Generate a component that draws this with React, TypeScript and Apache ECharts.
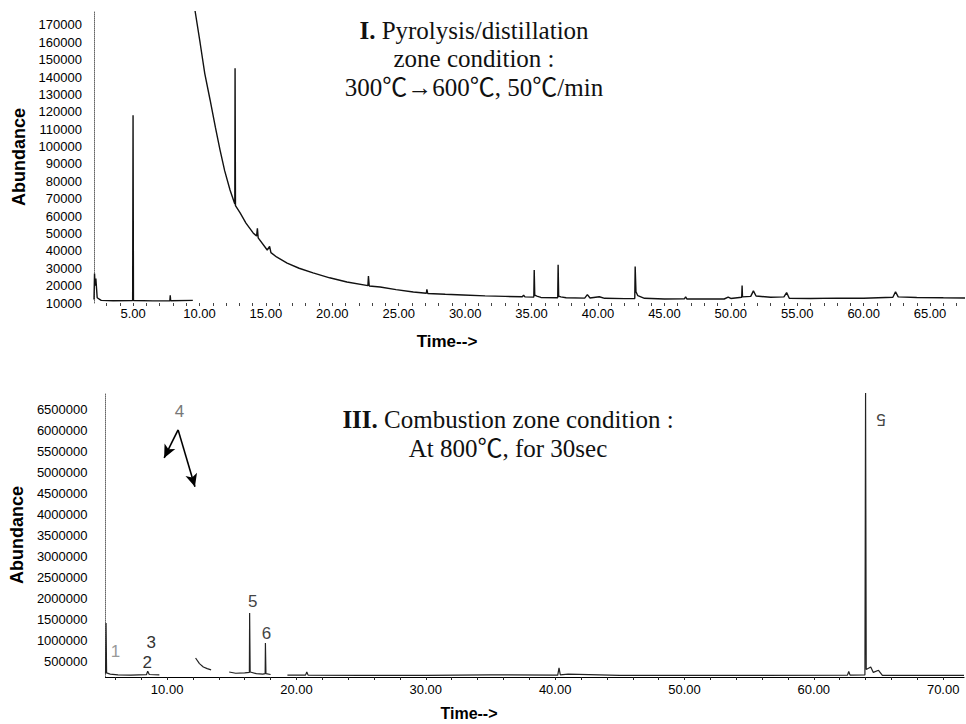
import React, { useEffect, useRef } from "react";
import * as echarts from "echarts";

// ---------- Data ----------
// Pyrolysis/distillation zone chromatogram: [retention time (min), abundance]; null = trace not visible
const pyrolysisTrace: [number, number | null][] = [
  [2.06, 12000], [2.1, 27000], [2.14, 20000], [2.2, 24000], [2.3, 13000], [2.6, 11500],
  [3.5, 11300], [4.97, 11400], [5.0, 118000], [5.03, 11400], [6.5, 11200],
  [7.77, 11300], [7.8, 14500], [7.83, 11300], [9.5, 11500], [9.6, null],
  [9.67, 178000], [10.05, 159600], [10.4, 142000], [10.8, 126800], [11.2, 111000],
  [11.55, 98000], [11.9, 86000], [12.3, 75000], [12.66, 67000], [12.68, 145000],
  [12.71, 66000], [13.06, 61800], [13.5, 56000], [14.04, 50300], [14.3, 48500],
  [14.36, 53000], [14.42, 47500], [15.1, 40500], [15.28, 42500], [15.38, 39000],
  [15.8, 36500], [16.6, 33000], [17.5, 30000], [18.55, 27300], [19.8, 24500],
  [21.1, 22100], [22.68, 20000], [22.72, 25500], [22.78, 19800], [23.6, 19200],
  [24.8, 17700], [26.1, 16300], [27.08, 15600], [27.12, 17800], [27.18, 15500],
  [28.5, 15000], [29.85, 14600], [31.5, 14100], [33.0, 13800], [34.3, 13600],
  [34.4, 14500], [34.5, 13500], [35.17, 13400], [35.2, 29000], [35.24, 14500],
  [35.4, 14000], [35.7, 13200], [36.97, 13000], [37.0, 32000], [37.04, 14000],
  [37.2, 13500], [37.6, 13000], [39.0, 12800], [39.2, 14800], [39.4, 12900],
  [40.1, 13600], [40.5, 12700], [42.0, 12500], [42.77, 12600], [42.8, 31000],
  [42.86, 16500], [43.0, 14200], [43.5, 12700], [45.0, 12300], [46.5, 12400],
  [46.6, 13500], [46.7, 12300], [49.5, 12300], [49.8, 13400], [50.0, 12600],
  [50.82, 13300], [50.85, 20000], [50.88, 13500], [51.5, 13800], [51.7, 17000],
  [51.9, 14000], [53.0, 13300], [54.0, 13500], [54.2, 16000], [54.4, 12700],
  [56.0, 12600], [58.0, 12800], [60.0, 12700], [62.2, 13300], [62.4, 16500],
  [62.6, 13500], [64.0, 13200], [66.0, 13000], [67.63, 12900],
];

// Combustion zone chromatogram: [retention time (min), abundance]; null = trace not visible
const combustionTrace: [number, number | null][] = [
  [5.24, 200000], [5.28, 1410000], [5.32, 220000], [5.6, 190000], [6.2, 170000],
  [7.2, 165000], [8.4, 175000], [8.5, 260000], [8.62, 180000], [9.4, 170000],
  [9.5, null], [12.2, 573000], [12.5, 440000], [12.8, 360000], [13.1, 320000],
  [13.4, 290000], [13.5, null], [14.8, 240000], [15.3, 210000], [16.0, 220000],
  [16.36, 230000], [16.38, 1650000], [16.42, 240000], [16.9, 200000], [17.4, 190000],
  [17.58, 200000], [17.6, 930000], [17.64, 200000], [18.0, 180000], [18.1, null],
  [19.3, 165000], [20.7, 165000], [20.8, 240000], [20.9, 165000], [25.0, 160000],
  [30.0, 160000], [35.0, 170000], [40.2, 165000], [40.3, 340000], [40.4, 170000],
  [41.0, 190000], [45.0, 160000], [55.0, 160000], [62.6, 165000], [62.7, 250000],
  [62.8, 165000], [63.95, 170000], [64.0, 6900000], [64.05, 300000], [64.4, 360000],
  [64.6, 230000], [65.0, 280000], [65.3, 160000], [71.61, 160000],
];

// Peak labels on combustion chart
const peakLabelNames = ["1", "2", "3", "4", "5", "6", "5"];
const peakLabelTimes = [6.0, 8.46, 8.77, 10.95, 16.61, 17.69, 65.19];
const peakLabelValues = [717000, 478000, 932000, 6450000, 1930000, 1150000, 6260000];
const peakLabelColors = ["#999", "#333", "#333", "#777", "#444", "#444", "#444"];
const peakLabelRotate = [0, 0, 0, 0, 0, 0, 180];

// Arrows pointing at peak 4: [from time, from value, to time, to value]
const peak4Arrows: [number, number, number, number][] = [
  [10.85, 6020000, 9.77, 5350000],
  [10.85, 6020000, 12.15, 4660000],
];

// Axis ticks / labels
const topXLabels = [5, 10, 15, 20, 25, 30, 35, 40, 45, 50, 55, 60, 65];
const topXTicks = [3, 4, 5, 6, 7, 8, 9, 10, 11, 12, 13, 14, 15, 16, 17, 18, 19, 20, 21, 22, 23, 24, 25, 26, 27, 28, 29, 30, 31, 32, 33, 34, 35, 36, 37, 38, 39, 40, 41, 42, 43, 44, 45, 46, 47, 48, 49, 50, 51, 52, 53, 54, 55, 56, 57, 58, 59, 60, 61, 62, 63, 64, 65, 66, 67];
const topYLabels = [10000, 20000, 30000, 40000, 50000, 60000, 70000, 80000, 90000, 100000, 110000, 120000, 130000, 140000, 150000, 160000, 170000];
const bottomXLabels = [10, 20, 30, 40, 50, 60, 70];
const bottomXTicks = [6, 8, 10, 12, 14, 16, 18, 20, 22, 24, 26, 28, 30, 32, 34, 36, 38, 40, 42, 44, 46, 48, 50, 52, 54, 56, 58, 60, 62, 64, 66, 68, 70];
const bottomYLabels = [500000, 1000000, 1500000, 2000000, 2500000, 3000000, 3500000, 4000000, 4500000, 5000000, 5500000, 6000000, 6500000];

const topTitleLines = ["{b|I.} Pyrolysis/distillation", "zone condition :", "300℃→600℃, 50℃/min"];
const bottomTitleLines = ["{b|III.} Combustion zone condition :", "At 800℃, for 30sec"];

const SANS = "'Liberation Sans', Arial, Helvetica, sans-serif";
const SERIF = "'Liberation Serif', 'Times New Roman', 'Noto Sans CJK KR', serif";

const toData = (arr: [number, number | null][]) =>
  arr.map(([t, v]) => [t, v === null ? "-" : v]);

export default function App() {
  const ref = useRef<HTMLDivElement>(null);

  useEffect(() => {
    if (!ref.current) return;
    const chart = echarts.init(ref.current, undefined, { renderer: "svg" });

    const axisLabelBase = { fontSize: 13, color: "#000", fontFamily: SANS };

    const titleText = (text: string, x: number, y: number) => ({
      type: "text",
      x,
      y,
      silent: true,
      style: {
        text,
        fill: "#111",
        fontSize: 25,
        fontFamily: SERIF,
        align: "center",
        verticalAlign: "middle",
        rich: { b: { fontSize: 25, fontFamily: SERIF, fontWeight: "bold", fill: "#111" } },
      },
    });

    const option: any = {
      animation: false,
      backgroundColor: "#ffffff",
      grid: [
        { left: 94, right: 1, top: 11, bottom: 421 },
        { left: 100, right: 2, top: 393, bottom: 47 },
      ],
      xAxis: [
        {
          type: "value",
          gridIndex: 0,
          min: 2.06,
          max: 67.63,
          axisLine: { show: false, onZero: false },
          axisTick: { show: true, customValues: topXTicks, length: 3, lineStyle: { color: "#444" } },
          axisLabel: { ...axisLabelBase, customValues: topXLabels, margin: 4, formatter: (v: number) => v.toFixed(2) },
          splitLine: { show: false },
        },
        {
          type: "value",
          gridIndex: 1,
          min: 5.237,
          max: 71.61,
          axisLine: { show: true, onZero: false, lineStyle: { color: "#000", width: 1.2 } },
          axisTick: { show: true, customValues: bottomXTicks, length: 3, lineStyle: { color: "#222" } },
          axisLabel: { ...axisLabelBase, customValues: bottomXLabels, margin: 6, formatter: (v: number) => v.toFixed(2) },
          splitLine: { show: false },
        },
      ],
      yAxis: [
        {
          type: "value",
          gridIndex: 0,
          min: 10000,
          max: 178000,
          name: "Abundance",
          nameLocation: "middle",
          nameGap: 66,
          nameTextStyle: { fontSize: 18, fontWeight: "bold", fontFamily: SANS, color: "#000" },
          axisLine: { show: true, onZero: false, lineStyle: { type: "dotted", color: "#666", width: 1 } },
          axisTick: { show: false },
          axisLabel: { ...axisLabelBase, customValues: topYLabels, margin: 12, formatter: (v: number) => String(v) },
          splitLine: { show: false },
        },
        {
          type: "value",
          gridIndex: 1,
          min: 120000,
          max: 6900000,
          name: "Abundance",
          nameLocation: "middle",
          nameGap: 72,
          nameTextStyle: { fontSize: 18, fontWeight: "bold", fontFamily: SANS, color: "#000" },
          axisLine: { show: true, onZero: false, lineStyle: { type: "dotted", color: "#666", width: 1 } },
          axisTick: { show: false },
          axisLabel: { ...axisLabelBase, customValues: bottomYLabels, margin: 18, formatter: (v: number) => String(v) },
          splitLine: { show: false },
        },
      ],
      series: [
        {
          type: "line",
          xAxisIndex: 0,
          yAxisIndex: 0,
          data: toData(pyrolysisTrace),
          showSymbol: false,
          symbol: "none",
          connectNulls: false,
          clip: true,
          lineStyle: { color: "#111", width: 1.4 },
          silent: true,
        },
        {
          type: "line",
          xAxisIndex: 1,
          yAxisIndex: 1,
          data: toData(combustionTrace),
          showSymbol: false,
          symbol: "none",
          connectNulls: false,
          clip: true,
          lineStyle: { color: "#222", width: 1.2 },
          silent: true,
          markLine: {
            silent: true,
            animation: false,
            symbol: ["none", "arrow"],
            symbolSize: [9, 13],
            label: { show: false },
            lineStyle: { color: "#000", width: 1.6, type: "solid" },
            itemStyle: { color: "#000" },
            data: peak4Arrows.map(([t0, v0, t1, v1]) => [
              { coord: [t0, v0], symbol: "none" },
              { coord: [t1, v1], symbol: "arrow" },
            ]),
          },
          markPoint: {
            silent: true,
            animation: false,
            symbol: "circle",
            symbolSize: 1,
            itemStyle: { color: "rgba(0,0,0,0)" },
            label: { show: true, position: "inside", fontSize: 17, fontFamily: SANS, formatter: (p: any) => p.name },
            data: peakLabelNames.map((n, i) => ({
              name: n,
              coord: [peakLabelTimes[i], peakLabelValues[i]],
              label: { color: peakLabelColors[i], rotate: peakLabelRotate[i] },
            })),
          },
        },
      ],
      graphic: [
        ...topTitleLines.map((t, i) => titleText(t, 474, 30 + i * 28.5)),
        ...bottomTitleLines.map((t, i) => titleText(t, 508, 419 + i * 29)),
        {
          type: "text",
          x: 447,
          y: 341,
          silent: true,
          style: { text: "Time-->", fill: "#000", fontSize: 17, fontWeight: "bold", fontFamily: SANS, align: "center", verticalAlign: "middle" },
        },
        {
          type: "text",
          x: 469,
          y: 713,
          silent: true,
          style: { text: "Time-->", fill: "#000", fontSize: 16, fontWeight: "bold", fontFamily: SANS, align: "center", verticalAlign: "middle" },
        },
      ],
    };

    chart.setOption(option);
    return () => chart.dispose();
  }, []);

  return (
    <div
      ref={ref}
      style={{ position: "fixed", left: 0, top: 0, width: 966, height: 724, background: "#fff" }}
    />
  );
}
